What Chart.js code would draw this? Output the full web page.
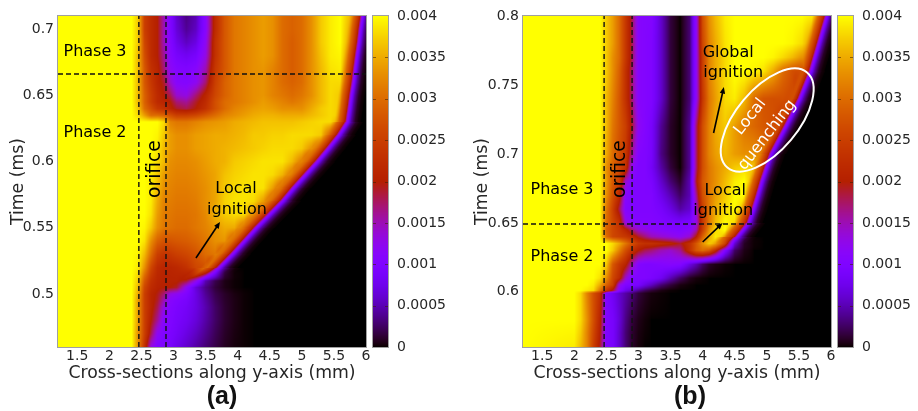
<!DOCTYPE html>
<html>
<head>
<meta charset="utf-8">
<script src="https://cdn.jsdelivr.net/npm/chart.js@4"></script>
<style>
  body { margin: 0; background: #fff; }
  canvas { position: absolute; top: 0; }
</style>
</head>
<body>
<canvas id="chartA" width="459" height="411" style="left:0"></canvas>
<canvas id="chartB" width="459" height="411" style="left:459px"></canvas>
<script>
const xTicks = [1.5, 2, 2.5, 3, 3.5, 4, 4.5, 5, 5.5, 6];
const yTicksA = [0.5, 0.55, 0.6, 0.65, 0.7];
const yTicksB = [0.6, 0.65, 0.7, 0.75, 0.8];
const colorTicks = [0, 0.0005, 0.001, 0.0015, 0.002, 0.0025, 0.003, 0.0035, 0.004];

// field cells are in units of 1e-4
const cellUnit = 1e-4;

const columnsA = [1.2, 2.35, 2.45, 2.55, 2.65, 2.75, 2.85, 2.95, 3.05, 3.2, 3.35, 3.5, 3.65, 3.8, 3.95, 4.1, 4.25, 4.4, 4.55, 4.7, 4.85, 5, 5.15, 5.3, 5.45, 5.6, 5.75, 5.825, 5.9, 6];
const timesA = [0.71, 0.7, 0.69, 0.68, 0.67, 0.66, 0.65, 0.645, 0.64, 0.635, 0.63, 0.62, 0.61, 0.6, 0.59, 0.58, 0.57, 0.56, 0.55, 0.54, 0.53, 0.52, 0.51, 0.505, 0.5, 0.495, 0.49, 0.48, 0.47, 0.46];
const fieldA = [
  [40,40,37,25,22,20,15,10,6,3.5,5,11,22,28,31,32,33,34,33,30,29,30,33,37,39,40,36,32,20,4],
  [40,40,37,25,22,20,15,10,6.5,4,5.5,11,22,28,31,32,33,34,33,30,29,30,33,37,39,40,35,29,15,2.5],
  [40,40,37,26,22,20,15,10.5,7.5,5.5,7,12,23,28,31,32,33,34,33,30,28.5,30,33,37,39,40,34,26,9,1],
  [40,40,36,27,22,20,16,11,9,8,9,13,23,28,31,32,33,34,33,30,28.5,30,33,36.5,39,39.5,32,19,5.5,0.5],
  [40,40,36,28,23,21,17,12,10.5,10,11,15,24,28,31,32,33,33.5,32,30,28.5,30,33,36,38.5,39,29,13,3,0],
  [40,40,36,28,24,21,19,14,11,10.5,12,17,25,29,31,32,33,33.5,32,30,29,30,33,36,38,38,26,8,1.5,0],
  [40,40,36,29,25,22,20,18,14,13,17,21,26,29,31,32,33,33.5,32,31,30,31,33,36,38,37,17,4.5,1,0],
  [40,40,36,29,25,22,21,20,17,16,19,22,27,30,31,32,33,34,33,32,31,32,34,36,38,37,13,3,0.5,0],
  [40,40,37,30,27,24,23,21,19,18,20,23,27,30,32,33,34,34.5,34,33,33,33,35,37,38,37,10,2.5,0,0],
  [40,40,38,34,30,30,29,27,25,25,26,28,30,32,33,34,35,35.5,35.5,35,35,35,36,37,38,37,8,2,0,0],
  [40,40,40,40,40,40,38,32,31,31,32,33,33.5,34,35,35.5,36,36.5,36.5,36.5,36.5,37,37.5,38,38,34,6,1,0,0],
  [40,40,40,40,40,39.5,37,34,33,33,34,34.5,35,35,35.5,36,37,37,37.5,37.5,38,38,38,37,27,9,1,0,0,0],
  [40,40,40,40,40,39,36,34,33,33,34,34.5,35,35.5,36,36.5,37,37.5,38,38,38,37,33,26,9,1.5,0,0,0,0],
  [40,40,40,40,39.5,38,36,33,32.5,32.5,33,34,35,35.5,37,37.5,38,38.5,38.5,38.5,36,31,21,6,1,0,0,0,0,0],
  [40,40,40,40,39,37,34,32.5,32,32,32.5,33.5,34.5,36.5,37.5,38,38.5,38.5,38,35.5,30,18,3.5,0.5,0,0,0,0,0,0],
  [40,40,40,40,39,36,33,32,31.5,31.5,32,33,34.5,37,38,38.5,38.5,38.5,34,27,14,2.5,0.3,0,0,0,0,0,0,0],
  [40,40,40,40,39,35,32,31.5,31,31,31.5,33,34.5,37.5,38.5,38.5,38,34,26,10,2,0.2,0,0,0,0,0,0,0,0],
  [40,40,40,40,38.5,34,31.5,31,30.5,30.5,31,32.5,35.5,37,38,38,32,22,6,0.8,0,0,0,0,0,0,0,0,0,0],
  [40,40,40,39.5,37,33,31,30.5,30,30,31,32,33.5,35,35,29,16,3.5,0.4,0,0,0,0,0,0,0,0,0,0,0],
  [40,40,40,38.5,33,29,27.5,27.5,28,28.5,29.5,31,33,33.5,26,11,2,0.2,0,0,0,0,0,0,0,0,0,0,0,0],
  [40,40,39.5,36,30,25,23.5,24,25,26,27.5,30,31,23,7,1.2,0.1,0,0,0,0,0,0,0,0,0,0,0,0,0],
  [40,40,39,33,26,22,21,21,21.5,23,26,27,19,4,0.5,0,0,0,0,0,0,0,0,0,0,0,0,0,0,0],
  [40,40,37,28,23,21,20.5,20.5,20.5,19,13,5,2,0.5,0.1,0,0,0,0,0,0,0,0,0,0,0,0,0,0,0],
  [40,40,36,26,22,20.5,20,20,19,12,6.5,3.5,1.5,0.5,0.1,0,0,0,0,0,0,0,0,0,0,0,0,0,0,0],
  [40,40,35,25,21,19.5,17,13,12,10,7,4,2,1,0.4,0.1,0,0,0,0,0,0,0,0,0,0,0,0,0,0],
  [40,40,34,25,21,19,15,11,10,9,7,4.5,2.3,1.1,0.5,0.1,0,0,0,0,0,0,0,0,0,0,0,0,0,0],
  [40,40,34,25,21,18,13,10.5,9.5,8.5,7,4.8,2.6,1.2,0.5,0.1,0,0,0,0,0,0,0,0,0,0,0,0,0,0],
  [40,40,34,25,20,16,11,10,9,8,6.5,4.5,2.6,1.2,0.5,0.1,0,0,0,0,0,0,0,0,0,0,0,0,0,0],
  [40,40,33,25,18,12,10,9.5,8.5,7,5.5,3.8,2.2,1,0.4,0.1,0,0,0,0,0,0,0,0,0,0,0,0,0,0],
  [40,40,33,23,13,10,9.5,9,7.5,6,4.5,3,1.8,0.8,0.3,0.1,0,0,0,0,0,0,0,0,0,0,0,0,0,0]
];
// where the burning front crosses 0.001, and the level just behind it
const frontTimesA = [0.71, 0.7, 0.69, 0.68, 0.67, 0.66, 0.65, 0.64, 0.63, 0.62, 0.61, 0.6, 0.59, 0.58, 0.57, 0.56, 0.55, 0.54, 0.53, 0.52, 0.51];
const frontA = [5.953, 5.922, 5.898, 5.867, 5.839, 5.813, 5.778, 5.75, 5.719, 5.587, 5.423, 5.252, 5.065, 4.878, 4.706, 4.504, 4.301, 4.114, 3.927, 3.725, 3.444];
const frontLevelA = [38, 38, 38, 38, 38, 38, 38, 38, 38, 38, 38, 38, 38, 38, 38, 37, 36, 35, 33, 30, 27];

const columnsB = [1.2, 2, 2.1, 2.2, 2.3, 2.4, 2.5, 2.6, 2.7, 2.8, 2.9, 3, 3.1, 3.2, 3.35, 3.5, 3.65, 3.8, 3.9, 4, 4.1, 4.2, 4.35, 4.5, 4.65, 4.8, 4.95, 5.1, 5.25, 5.4, 5.55, 5.7, 5.8, 5.9, 6];
const timesB = [0.8, 0.78, 0.77, 0.76, 0.74, 0.72, 0.7, 0.69, 0.68, 0.67, 0.66, 0.65, 0.645, 0.64, 0.635, 0.63, 0.62, 0.61, 0.605, 0.601, 0.599, 0.58, 0.57, 0.56];
const fieldB = [
  [40,40,40,40,40,40,37,34,30,24,18,11,10.5,10.5,6,1.5,0,3,12,27,33,36,39,40,40,40,40,40,40,40,40,39,35,23,5],
  [40,40,40,40,40,40,37,34,30,24,18,11,10.5,10,6,1.5,0,3,12,26,32,35,38.5,40,40,40,40,40,40,39.5,38,33,14,2.5,0.3],
  [40,40,40,40,40,40,37,33,30,24,18,11,10.5,10,6,1.5,0,3,12,25,32,35,38,40,40,40,40,39.5,38,36,33,28,6,1,0.1],
  [40,40,40,40,40,40,37,33,29,23,17,11,10.5,10,6,1.5,0,3,12,25,32,35,38,40,40,39.5,38.5,35,30,27,26,10,2,0.3,0],
  [40,40,40,40,40,40,36,32,28,23,17,11,10.5,10,6,1.5,0,3,12,24,31,34,38,39,36,30,27.5,27,27,26,10,1.5,0.2,0,0],
  [40,40,40,40,40,40,36,31,28,25,19,12,10.5,9,4,1,0,4,17,27,32,35,37,34,31,29.5,28,27,23,7,1,0.1,0,0,0],
  [40,40,40,40,40,40,35,30,27,24,16,10.5,10,9,3.5,1,0,4,17,27,32,34,36,34,33,33,31,13,2.5,0.3,0,0,0,0,0],
  [40,40,40,40,40,40,33,29,26,23,12,10,10,8.5,4.5,1.5,0,4,17,27,31,33,35,37,38,37,24,4.5,0.8,0,0,0,0,0,0],
  [40,40,40,40,40,40,34,28,25,14,10.5,10,10,9.5,6,3,1,5,19,28,31,33,36,39,40,35,11,1.5,0.2,0,0,0,0,0,0],
  [40,40,40,40,40,40,33,27,22,11,10,10,10,10,7.5,5,2.5,5,16,27,31,34,37,40,40,26,5,0.7,0,0,0,0,0,0,0],
  [40,40,40,40,40,40,31,25,18,10.5,10,10,10,10,9,7,4.5,6,14,25,31,35,38,40,36,12,2,0.2,0,0,0,0,0,0,0],
  [40,40,40,40,40,40,30,26,23,13,11,10.5,10.5,10.5,10,9.5,9,9.5,13,24,31,36,40,38,22,5,0.8,0,0,0,0,0,0,0,0],
  [40,40,40,40,40,40,29,26,24,21,17,14,13,12,11,10.5,10,11,15,25,33,38,40,32,11,2,0.3,0,0,0,0,0,0,0,0],
  [40,40,40,40,40,40,30,26,25,24,22,19,17,15,14,13,12,14,20,29,35,39,37,15,3.5,0.6,0,0,0,0,0,0,0,0,0],
  [40,40,40,40,40,40,40,38,35,31,27,24,23,23,22,21,19,23,28,33,37,37,30,8,1.5,0.2,0,0,0,0,0,0,0,0,0],
  [40,40,40,40,40,40,40,37,32,27,23,20,18,17,15,14,16,23,28,30,28,22,10,2.5,0.5,0,0,0,0,0,0,0,0,0,0],
  [40,40,40,40,40,40,37,28,24,21,15,10.5,10,10,10.5,11,10.5,7,5,2.5,1,0.5,0.1,0,0,0,0,0,0,0,0,0,0,0,0],
  [40,40,40,40,40,38.5,33,26,22,14,10,10,10,9.5,8,5,2.5,0.8,0.3,0.1,0,0,0,0,0,0,0,0,0,0,0,0,0,0,0],
  [40,40,40,40,39,35,29,25,13,10,9.5,9,7,5.5,3,1.5,0.4,0.1,0,0,0,0,0,0,0,0,0,0,0,0,0,0,0,0,0],
  [40,40,40,39,38,31,24,19,11,7.5,6,4,2.5,1.5,0.5,0.1,0,0,0,0,0,0,0,0,0,0,0,0,0,0,0,0,0,0,0],
  [40,40,38,32,27,23,10,8,6,4.5,3,1.5,0.8,0.3,0.1,0,0,0,0,0,0,0,0,0,0,0,0,0,0,0,0,0,0,0,0],
  [40,40,38,33,27,21,10,9,6.5,3.5,1.5,0.6,0.2,0,0,0,0,0,0,0,0,0,0,0,0,0,0,0,0,0,0,0,0,0,0],
  [40,39.5,37,32,26,20,10,9,6,3,1.2,0.4,0.1,0,0,0,0,0,0,0,0,0,0,0,0,0,0,0,0,0,0,0,0,0,0],
  [40,39,36,32,25,19,10,9,6,3,1.1,0.3,0,0,0,0,0,0,0,0,0,0,0,0,0,0,0,0,0,0,0,0,0,0,0]
];
const frontTimesB = [0.8, 0.79, 0.78, 0.76, 0.74, 0.72, 0.7, 0.69, 0.68, 0.67, 0.66, 0.65, 0.64, 0.63];
const frontB = [5.943, 5.88, 5.818, 5.693, 5.521, 5.303, 5.077, 5, 4.928, 4.866, 4.8, 4.725, 4.554, 4.304];
const frontLevelB = [40, 40, 40, 27, 27, 27, 33, 37, 38, 40, 40, 40, 38, 30];

// level across the front, against distance from it in px (read across the band)
const bandDistance = [-14, -10, -7, -5, -3, -1.5, 0, 1.5, 3, 5, 7, 10, 13];
const bandLevel = [36, 31, 27, 24, 20, 14, 10, 7, 4.5, 2.5, 1, 0.2, 0];

const xLabel = 'Cross-sections along y-axis (mm)';
const yLabel = 'Time (ms)';
const tickFont = { family: 'DejaVu Sans', size: 14 };
const titleFont = { family: 'DejaVu Sans', size: 17.3 };
const tickColor = '#262626';

// gnuplot's default 7,5,15 palette
function palette(f) {
  f = Math.min(1, Math.max(0, f));
  return [
    255 * Math.sqrt(f),
    255 * f * f * f,
    255 * Math.max(0, Math.sin(2 * Math.PI * f))
  ];
}

function findCell(list, v) {
  for (let i = 0; i < list.length - 1; i++) {
    if (v <= list[i + 1]) return i;
  }
  return list.length - 2;
}

function bandAt(d) {
  if (d <= bandDistance[0]) return bandLevel[0];
  const i = findCell(bandDistance, d);
  if (d >= bandDistance[bandDistance.length - 1]) return 0;
  const f = (d - bandDistance[i]) / (bandDistance[i + 1] - bandDistance[i]);
  return bandLevel[i] + (bandLevel[i + 1] - bandLevel[i]) * f;
}

const heatPlugin = {
  id: 'heat',
  beforeDatasetsDraw(chart, args, opts) {
    const { ctx, chartArea: area, scales } = chart;
    const { columns, times, field, frontTimes, front, frontLevel } = opts;
    const w = area.right - area.left;
    const h = area.bottom - area.top;
    const img = ctx.createImageData(w, h);
    const cells = [];
    for (let i = 0; i < w; i++) {
      const v = scales.x.getValueForPixel(area.left + i + 0.5);
      const c = findCell(columns, v);
      cells.push([c, (v - columns[c]) / (columns[c + 1] - columns[c])]);
    }
    const descending = times.slice().reverse();
    const frontDown = frontTimes.slice().reverse();
    const frontMin = frontDown[0];
    for (let j = 0; j < h; j++) {
      const t = scales.y.getValueForPixel(area.top + j + 0.5);
      const k = findCell(descending, t);
      const rowLow = field[times.length - 1 - k];
      const rowHigh = field[times.length - 2 - k];
      const ft = (t - descending[k]) / (descending[k + 1] - descending[k]);

      // front position on this pixel row, through the scales
      const m = findCell(frontDown, t);
      const a = frontTimes.length - 1 - m, b = frontTimes.length - 2 - m;
      const fm = (t - frontDown[m]) / (frontDown[m + 1] - frontDown[m]);
      const frontPx = scales.x.getPixelForValue(front[a] + (front[b] - front[a]) * fm);
      const level = frontLevel[a] + (frontLevel[b] - frontLevel[a]) * fm;
      const slope = (scales.x.getPixelForValue(front[b]) - scales.x.getPixelForValue(front[a])) /
        (scales.y.getPixelForValue(frontTimes[b]) - scales.y.getPixelForValue(frontTimes[a]));
      const across = Math.sqrt(1 + slope * slope);
      const fade = Math.max(0, Math.min(1, (t - frontMin) / 0.01));

      for (let i = 0; i < w; i++) {
        const [c, fx] = cells[i];
        const low = rowLow[c] + (rowLow[c + 1] - rowLow[c]) * fx;
        const high = rowHigh[c] + (rowHigh[c + 1] - rowHigh[c]) * fx;
        let v = low + (high - low) * ft;
        if (fade > 0) {
          const d = (area.left + i + 0.5 - frontPx) / across;
          if (d > -14) {
            const band = Math.min(bandAt(d), level);
            const near = d >= -9 ? 1 : (d + 14) / 5;
            v += (band - v) * near * fade;
          }
        }
        const rgb = palette(v * cellUnit / 0.004);
        const p = (j * w + i) * 4;
        img.data[p] = rgb[0];
        img.data[p + 1] = rgb[1];
        img.data[p + 2] = rgb[2];
        img.data[p + 3] = 255;
      }
    }
    ctx.putImageData(img, area.left, area.top);

    // colour bar, read through its own axis
    const barLeft = area.right + 7;
    const barWidth = 15;
    for (let y = area.top; y < area.bottom; y++) {
      const rgb = palette(scales.c.getValueForPixel(y + 0.5) / 0.004);
      ctx.fillStyle = `rgb(${rgb[0]},${rgb[1]},${rgb[2]})`;
      ctx.fillRect(barLeft, y, barWidth, 1);
    }
    ctx.strokeStyle = 'rgba(60,30,0,0.55)';
    ctx.lineWidth = 1;
    colorTicks.slice(1, -1).forEach(v => {
      const y = Math.round(scales.c.getPixelForValue(v)) + 0.5;
      ctx.beginPath();
      ctx.moveTo(barLeft, y);
      ctx.lineTo(barLeft + 3, y);
      ctx.moveTo(barLeft + barWidth - 3, y);
      ctx.lineTo(barLeft + barWidth, y);
      ctx.stroke();
    });
    ctx.strokeStyle = '#a0a0a0';
    ctx.strokeRect(barLeft - 0.5, area.top - 0.5, barWidth + 1, h + 1);
    ctx.strokeRect(area.left - 0.5, area.top - 0.5, w + 1, h + 1);
  },
  afterDatasetsDraw(chart, args, opts) {
    const { ctx, chartArea: area, scales } = chart;
    const px = v => scales.x.getPixelForValue(v);
    const py = v => scales.y.getPixelForValue(v);
    ctx.save();
    opts.arrows.forEach(a => {
      const x0 = px(a[0]), y0 = py(a[1]), x1 = px(a[2]), y1 = py(a[3]);
      const ang = Math.atan2(y1 - y0, x1 - x0);
      ctx.strokeStyle = '#000';
      ctx.fillStyle = '#000';
      ctx.lineWidth = 1.6;
      ctx.beginPath();
      ctx.moveTo(x0, y0);
      ctx.lineTo(x1 - 3 * Math.cos(ang), y1 - 3 * Math.sin(ang));
      ctx.stroke();
      ctx.beginPath();
      ctx.moveTo(x1, y1);
      ctx.lineTo(x1 - 7 * Math.cos(ang - 0.4), y1 - 7 * Math.sin(ang - 0.4));
      ctx.lineTo(x1 - 7 * Math.cos(ang + 0.4), y1 - 7 * Math.sin(ang + 0.4));
      ctx.closePath();
      ctx.fill();
    });
    if (opts.ellipse) {
      ctx.strokeStyle = '#fff';
      ctx.lineWidth = 2;
      ctx.beginPath();
      ctx.ellipse(px(opts.ellipse.x), py(opts.ellipse.y), 62, 31, -50 * Math.PI / 180, 0, 2 * Math.PI);
      ctx.stroke();
    }
    ctx.textAlign = 'center';
    ctx.textBaseline = 'middle';
    opts.notes.forEach(n => {
      ctx.save();
      ctx.translate(px(n.x), py(n.y));
      ctx.rotate((n.angle || 0) * Math.PI / 180);
      ctx.font = `${n.size || 16}px "DejaVu Sans"`;
      ctx.fillStyle = n.color || '#000';
      ctx.fillText(n.text, 0, 0);
      ctx.restore();
    });
    ctx.font = 'bold 25px "Liberation Sans"';
    ctx.fillStyle = '#111';
    ctx.fillText(opts.tag, (area.left + area.right) / 2 + opts.tagShift, 397);
    ctx.restore();
  }
};

function dashed(points) {
  return {
    type: 'scatter', data: points, showLine: true, pointRadius: 0,
    borderColor: '#111', borderWidth: 1.4, borderDash: [5, 3]
  };
}

function buildChart(id, cfg) {
  const cells = [];
  cfg.times.forEach((t, r) => cfg.columns.forEach((x, c) => {
    cells.push({ x: x, y: t, v: cfg.field[r][c] * cellUnit });
  }));
  new Chart(document.getElementById(id), {
    type: 'scatter',
    plugins: [heatPlugin],
    data: {
      datasets: [
        { label: 'field', data: cells, pointRadius: 0 },
        ...cfg.lines.map(dashed)
      ]
    },
    options: {
      responsive: false,
      animation: false,
      events: [],
      layout: { padding: { top: 16, left: 0, right: 0, bottom: 0 } },
      plugins: {
        legend: { display: false },
        tooltip: { enabled: false },
        heat: {
          columns: cfg.columns, times: cfg.times, field: cfg.field,
          frontTimes: cfg.frontTimes, front: cfg.front, frontLevel: cfg.frontLevel,
          arrows: cfg.arrows, notes: cfg.notes, ellipse: cfg.ellipse,
          tag: cfg.tag, tagShift: cfg.tagShift
        }
      },
      scales: {
        x: {
          type: 'linear', min: 1.2, max: 6,
          grid: { display: false, drawTicks: false }, border: { display: false },
          afterBuildTicks: s => { s.ticks = xTicks.map(v => ({ value: v })); },
          afterFit: s => { s.height = 64; },
          ticks: { font: tickFont, color: tickColor, padding: 1, maxRotation: 0, autoSkip: false, callback: v => String(v) },
          title: { display: true, text: xLabel, color: tickColor, font: titleFont, padding: { top: 0, bottom: 27.6 } }
        },
        y: {
          type: 'linear', min: cfg.times[cfg.times.length - 1], max: cfg.times[0],
          grid: { display: false, drawTicks: false }, border: { display: false },
          afterBuildTicks: s => { s.ticks = cfg.yTicks.map(v => ({ value: v })); },
          afterFit: s => { s.width = cfg.left; },
          ticks: { font: tickFont, color: tickColor, padding: 4, autoSkip: false, callback: v => String(v) },
          title: { display: true, text: yLabel, color: tickColor, font: titleFont, padding: { top: cfg.titlePad, bottom: 0 } }
        },
        c: {
          type: 'linear', position: 'right', min: 0, max: 0.004,
          grid: { display: false, drawTicks: false }, border: { display: false },
          afterBuildTicks: s => { s.ticks = colorTicks.map(v => ({ value: v })); },
          // the big tick padding would otherwise push the chart area down
          afterFit: s => { s.width = 459 - cfg.right; s.paddingTop = 0; s.paddingBottom = 0; },
          ticks: { font: tickFont, color: tickColor, padding: 31, autoSkip: false, callback: v => String(v) }
        }
      }
    }
  });
}

buildChart('chartA', {
  columns: columnsA, times: timesA, field: fieldA, yTicks: yTicksA,
  frontTimes: frontTimesA, front: frontA, frontLevel: frontLevelA,
  left: 58, right: 366, titlePad: 8, tag: '(a)', tagShift: 10,
  lines: [
    [{ x: 2.46, y: 0.46 }, { x: 2.46, y: 0.71 }],
    [{ x: 2.883, y: 0.46 }, { x: 2.883, y: 0.71 }],
    [{ x: 1.2, y: 0.6662 }, { x: 6, y: 0.6662 }]
  ],
  arrows: [[3.35, 0.5272, 3.725, 0.5544]],
  notes: [
    { text: 'Phase 3', x: 1.777, y: 0.6828 },
    { text: 'Phase 2', x: 1.777, y: 0.6216 },
    { text: 'orifice', x: 2.71, y: 0.5944, angle: -90, size: 18.7 },
    { text: 'Local', x: 3.975, y: 0.5793 },
    { text: 'ignition', x: 3.99, y: 0.5635 }
  ]
});

buildChart('chartB', {
  columns: columnsB, times: timesB, field: fieldB, yTicks: yTicksB,
  frontTimes: frontTimesB, front: frontB, frontLevel: frontLevelB,
  left: 64, right: 372, titlePad: 13.6, tag: '(b)', tagShift: 13,
  lines: [
    [{ x: 2.464, y: 0.56 }, { x: 2.464, y: 0.8 }],
    [{ x: 2.9, y: 0.56 }, { x: 2.9, y: 0.8 }],
    [{ x: 1.2, y: 0.6492 }, { x: 4.79, y: 0.6492 }]
  ],
  arrows: [
    [4.17, 0.7152, 4.33, 0.7485],
    [4.0, 0.6361, 4.31, 0.6499]
  ],
  ellipse: { x: 5.006, y: 0.7246 },
  notes: [
    { text: 'Phase 3', x: 1.808, y: 0.6738 },
    { text: 'Phase 2', x: 1.808, y: 0.6253 },
    { text: 'orifice', x: 2.71, y: 0.689, angle: -90, size: 18.7 },
    { text: 'Global', x: 4.398, y: 0.7732 },
    { text: 'ignition', x: 4.476, y: 0.7587 },
    { text: 'Local', x: 4.351, y: 0.6731 },
    { text: 'ignition', x: 4.32, y: 0.6586 },
    { text: 'Local', x: 4.741, y: 0.7268, angle: -52, color: '#fff' },
    { text: 'quenching', x: 5.006, y: 0.7137, angle: -52, color: '#fff' }
  ]
});
</script>
</body>
</html>
